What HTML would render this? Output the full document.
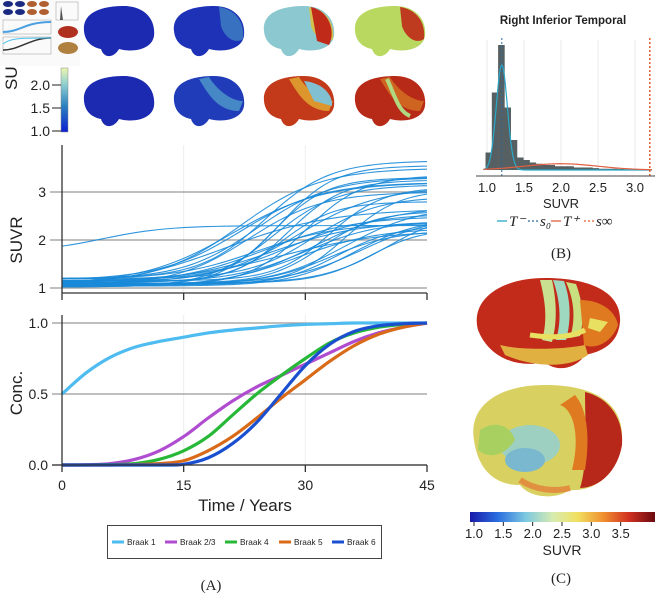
<!DOCTYPE html>
<html><head><meta charset="utf-8"><style>
body{margin:0;background:#fff;}
svg{display:block;font-family:"Liberation Sans",sans-serif;}
.serif{font-family:"Liberation Serif",serif;}
</style></head><body>
<svg id="fig" width="659" height="595" viewBox="0 0 659 595" xmlns="http://www.w3.org/2000/svg">
<defs>
<linearGradient id="cbA" x1="0" y1="1" x2="0" y2="0"><stop offset="0" stop-color="#0a1fd0"/><stop offset="0.4" stop-color="#2a7fc0"/><stop offset="0.75" stop-color="#8fd0d0"/><stop offset="1" stop-color="#eef5b0"/></linearGradient>
<linearGradient id="cbC" x1="0" y1="0" x2="1" y2="0"><stop offset="0" stop-color="#1a1aa8"/><stop offset="0.15" stop-color="#2a6ee0"/><stop offset="0.3" stop-color="#7cc8e0"/><stop offset="0.45" stop-color="#d8ecb0"/><stop offset="0.58" stop-color="#f0e060"/><stop offset="0.72" stop-color="#f09030"/><stop offset="0.86" stop-color="#d03020"/><stop offset="1" stop-color="#6a0a10"/></linearGradient>
</defs>

<!-- colorbar A label (partially hidden behind thumbnail) -->
<text x="0" y="0" font-size="17" fill="#222" transform="translate(17,90) rotate(-90)">SUVR</text>

<!-- thumbnail -->
<g>
<rect x="0" y="0" width="80" height="66" fill="#fafafa"/>
<g fill="#1a2a80"><ellipse cx="8" cy="4" rx="5" ry="3"/><ellipse cx="20" cy="4" rx="5" ry="3"/><ellipse cx="8" cy="12" rx="5" ry="3"/><ellipse cx="20" cy="12" rx="5" ry="3"/></g>
<g fill="#b06030"><ellipse cx="32" cy="4" rx="5" ry="3"/><ellipse cx="44" cy="4" rx="5" ry="3"/><ellipse cx="32" cy="12" rx="5" ry="3"/><ellipse cx="44" cy="12" rx="5" ry="3"/></g>
<rect x="3" y="20" width="48" height="14" fill="none" stroke="#999" stroke-width="0.5"/>
<path d="M3,32 C20,32 25,22 51,22" stroke="#4aa0e0" stroke-width="2" fill="none"/>
<rect x="3" y="37" width="48" height="17" fill="none" stroke="#999" stroke-width="0.5"/>
<path d="M3,50 C20,50 30,38 51,38" stroke="#333" stroke-width="1.5" fill="none"/>
<path d="M3,44 C10,38 20,38 51,38" stroke="#4ac0f0" stroke-width="1" fill="none"/>
<rect x="56" y="2" width="22" height="18" fill="none" stroke="#999" stroke-width="0.5"/>
<path d="M60,20 L61,6 L63,20" fill="#555"/>
<ellipse cx="68" cy="32" rx="10" ry="6" fill="#b03020"/>
<ellipse cx="68" cy="48" rx="10" ry="6" fill="#b08040"/>
</g>

<!-- brains panel A -->
<g id="brainsA"></g>

<!-- colorbar A -->
<g>
<rect x="61" y="68" width="7" height="64" fill="url(#cbA)" stroke="#888" stroke-width="0.5"/>
<g font-size="14" fill="#222" text-anchor="end">
<text x="50" y="90">2.0</text><text x="50" y="113">1.5</text><text x="50" y="136">1.0</text>
</g>
<g stroke="#222" stroke-width="1"><line x1="52" y1="85" x2="61" y2="85"/><line x1="52" y1="108" x2="61" y2="108"/><line x1="52" y1="131" x2="61" y2="131"/></g>
</g>

<!-- SUVR chart -->
<g id="suvr"></g>
<!-- Conc chart -->
<g id="conc"></g>

<!-- legend A -->
<g>
<rect x="107.5" y="525.5" width="274" height="33" fill="#fff" stroke="#444" stroke-width="1"/>
<g id="legA"></g>
</g>
<text x="211" y="590" font-size="15" class="serif" text-anchor="middle" fill="#222">(A)</text>

<!-- Histogram B -->
<g id="hist"></g>
<text x="561" y="258" font-size="15" class="serif" text-anchor="middle" fill="#222">(B)</text>

<!-- Brains C -->
<g>
<g>
<path d="M478,330 C470,300 500,278 545,278 C590,278 622,292 620,322 C618,345 600,352 585,355 C575,370 555,372 545,362 C520,368 490,360 478,330 Z" fill="#c22a1a"/>
<path d="M540,280 C545,300 548,320 542,340 L552,342 C558,320 556,298 552,280 Z" fill="#c8e090"/>
<path d="M553,280 C560,300 562,320 556,340 L566,340 C572,318 570,298 564,281 Z" fill="#9fd8c0"/>
<path d="M566,282 C574,300 576,318 570,338 L580,336 C585,318 582,300 576,284 Z" fill="#c8e080"/>
<path d="M580,300 C600,300 615,310 618,325 C612,342 596,350 584,345 Z" fill="#e07a20"/>
<path d="M500,345 C520,350 560,350 585,345 L588,355 C570,368 535,368 505,355 Z" fill="#e0b040"/>
<path d="M530,335 C550,338 570,338 585,330" stroke="#e8e060" stroke-width="5" fill="none"/>
<path d="M590,318 L608,322 L600,332 L588,328Z" fill="#e8e060"/>
</g>
<g>
<path d="M474,440 C468,405 500,385 545,385 C590,385 624,400 622,440 C620,470 598,492 570,490 C555,500 530,498 520,485 C495,485 478,470 474,440 Z" fill="#d8d060"/>
<path d="M585,392 C610,398 624,420 622,445 C618,470 600,488 580,488 C588,465 585,420 585,392 Z" fill="#b8281a"/>
<path d="M560,405 C575,410 580,440 572,470 L585,470 C590,440 588,410 575,395 Z" fill="#e07a20"/>
<ellipse cx="530" cy="445" rx="30" ry="20" fill="#9dd0c0"/>
<ellipse cx="525" cy="460" rx="20" ry="12" fill="#7ab8d0"/>
<path d="M480,430 C495,420 510,425 515,440 C505,455 490,460 478,450 Z" fill="#a8d060"/>
<path d="M520,480 C535,490 555,492 570,488" stroke="#e09040" stroke-width="6" fill="none"/>
</g>
<rect x="470" y="512" width="185" height="10" fill="url(#cbC)"/>
<g font-size="13" fill="#222" text-anchor="middle" id="cbCt"></g>
<text x="562" y="555" font-size="14" fill="#222" text-anchor="middle">SUVR</text>
</g>
<text x="561" y="583" font-size="15" class="serif" text-anchor="middle" fill="#222">(C)</text>
</svg>
<script>
// ---- data ----
const suvrLow  = [1.75,1.2,1.15,1.1,1.05,1.18,1.12,1.08,1.02,1.15,1.1,1.05,1.2,1.12,1.06,1.0,1.1,1.15,1.08,1.04,1.12,1.18,1.06,1.1,1.02,1.14,1.08,1.05,1.16,1.1,1.03,1.09,1.12,1.07];
const suvrHigh = [2.3,3.65,3.55,3.5,3.35,3.3,3.25,3.2,3.15,3.1,3.1,3.0,2.9,2.8,2.7,2.65,2.6,2.55,2.5,2.45,2.4,2.35,2.3,2.25,2.25,2.2,2.2,3.3,3.2,2.6,2.7,2.5,2.4,3.05];
const suvrMid  = [5,25,27,22,30,24,28,21,26,33,29,23,31,27,35,20,32,28,25,36,30,24,34,38,29,27,33,26,22,40,31,37,26,35];
const suvrRate = [0.25,0.25,0.3,0.2,0.28,0.22,0.3,0.18,0.25,0.3,0.2,0.22,0.25,0.3,0.22,0.15,0.3,0.2,0.18,0.25,0.22,0.2,0.28,0.3,0.2,0.16,0.25,0.3,0.2,0.25,0.2,0.22,0.18,0.3];
const years = [0,3,6,9,12,15,18,21,24,27,30,33,36,39,42,45];
const braakNames = ["Braak 1","Braak 2/3","Braak 4","Braak 5","Braak 6"];
const braak1  = [0.5,0.65,0.76,0.83,0.87,0.9,0.93,0.95,0.965,0.98,0.99,0.995,1,1,1,1];
const braak23 = [0,0.002,0.01,0.04,0.1,0.2,0.33,0.45,0.55,0.63,0.71,0.79,0.87,0.93,0.97,1];
const braak4  = [0,0,0.003,0.01,0.04,0.1,0.2,0.35,0.5,0.63,0.75,0.86,0.93,0.97,0.99,1];
const braak5  = [0,0,0,0.003,0.01,0.03,0.1,0.2,0.33,0.47,0.6,0.73,0.84,0.92,0.97,1];
const braak6  = [0,0,0,0,0,0.005,0.05,0.15,0.3,0.5,0.7,0.85,0.94,0.98,0.995,1];
const braakColors = ["#4ebcf0","#b04cd0","#28b838","#d86a18","#1a50d0"];
const yearTicks = [0,15,30,45];
const suvrTicks = [1,2,3];
const concTicks = [0.0,0.5,1.0];
const binStart = 0.98, binWidth = 0.085;
const histCounts = [14,62,100,50,24,10,8,6,5,4,4,3,3,3,2,2,2,1.5,1,1,1,0.8,0.6,0.5,0.4,0.3];
const histTicks = [1.0,1.5,2.0,2.5,3.0];
const s0 = 1.2, sInf = 3.2;
const tMinusMean = 1.2, tMinusSd = 0.075, tMinusPeak = 84;
const tPlusMean = 2.0, tPlusSd = 0.5, tPlusPeak = 5;
const cbCTicks = [1.0,1.5,2.0,2.5,3.0,3.5];

const NS="http://www.w3.org/2000/svg";
function mk(p,tag,attrs){const e=document.createElementNS(NS,tag);for(const k in attrs)e.setAttribute(k,attrs[k]);p.appendChild(e);return e;}
function smooth(pts){let d=`M${pts[0][0]},${pts[0][1]}`;for(let i=0;i<pts.length-1;i++){const p0=pts[i-1]||pts[i],p1=pts[i],p2=pts[i+1],p3=pts[i+2]||p2;
d+=` C${p1[0]+(p2[0]-p0[0])/6},${p1[1]+(p2[1]-p0[1])/6} ${p2[0]-(p3[0]-p1[0])/6},${p2[1]-(p3[1]-p1[1])/6} ${p2[0]},${p2[1]}`;}return d;}

const xT = t=>62+t*(427-62)/45;
const yS = v=>288-(v-1)*48;
const yC = v=>465-v*142;

// SUVR chart
const gS=document.getElementById('suvr');
[15,30].forEach(t=>{const l=mk(gS,'line',{x1:xT(t),x2:xT(t),y1:145,y2:293,stroke:'#eee','stroke-width':1});
});
suvrTicks.forEach(v=>{const l=mk(gS,'line',{x1:50,x2:427,y1:yS(v),y2:yS(v),stroke:'#999','stroke-width':1.2});

const t=mk(gS,'text',{x:46,y:yS(v)+5,'font-size':14,'text-anchor':'end',fill:'#222'});t.textContent=v;
});
suvrLow.forEach((lo,i)=>{const pts=[];for(let t=0;t<=45;t+=1){pts.push([xT(t),yS(lo+(suvrHigh[i]-lo)/(1+Math.exp(-suvrRate[i]*(t-suvrMid[i]))))]);}
const p=mk(gS,'path',{d:smooth(pts),fill:'none',stroke:'#1a8ad8','stroke-width':1.1,opacity:0.9});
});
mk(gS,'line',{x1:62,x2:62,y1:145,y2:293,stroke:'#333','stroke-width':1.3});
mk(gS,'line',{x1:62,x2:427,y1:293,y2:293,stroke:'#333','stroke-width':1.3});
yearTicks.forEach(t=>mk(gS,'line',{x1:xT(t),x2:xT(t),y1:293,y2:300,stroke:'#333','stroke-width':1.3}));
const sl=mk(gS,'text',{x:0,y:0,'font-size':17,fill:'#222',transform:'translate(22,240) rotate(-90)','text-anchor':'middle'});sl.textContent='SUVR';


// Conc chart
const gC=document.getElementById('conc');
[15,30].forEach(t=>mk(gC,'line',{x1:xT(t),x2:xT(t),y1:315,y2:465,stroke:'#eee','stroke-width':1}));
concTicks.forEach(v=>{const l=mk(gC,'line',{x1:52,x2:427,y1:yC(v),y2:yC(v),stroke:'#999','stroke-width':1.2});

const t=mk(gC,'text',{x:48,y:yC(v)+5,'font-size':14,'text-anchor':'end',fill:'#222'});t.textContent=v.toFixed(1);
});
[braak1,braak23,braak4,braak5,braak6].forEach((s,i)=>{const p=mk(gC,'path',{d:smooth(s.map((v,j)=>[xT(years[j]),yC(v)])),fill:'none',stroke:braakColors[i],'stroke-width':3.2});
});
mk(gC,'line',{x1:62,x2:62,y1:315,y2:465,stroke:'#333','stroke-width':1.3});
mk(gC,'line',{x1:52,x2:427,y1:465,y2:465,stroke:'#333','stroke-width':1.3});
yearTicks.forEach(t=>{mk(gC,'line',{x1:xT(t),x2:xT(t),y1:465,y2:472,stroke:'#333','stroke-width':1.3});
const l=mk(gC,'text',{x:xT(t),y:490,'font-size':14,'text-anchor':'middle',fill:'#222'});l.textContent=t;
});
const xl=mk(gC,'text',{x:245,y:511,'font-size':17,'text-anchor':'middle',fill:'#222'});xl.textContent='Time / Years';

const cl=mk(gC,'text',{x:0,y:0,'font-size':17,fill:'#222',transform:'translate(22,393) rotate(-90)','text-anchor':'middle'});cl.textContent='Conc.';


// legend A
const gL=document.getElementById('legA');
const legX=[112,165,225,279,332];
braakNames.forEach((n,i)=>{const g=mk(gL,'g',{});

mk(g,'line',{x1:legX[i],x2:legX[i]+12,y1:542,y2:542,stroke:braakColors[i],'stroke-width':3});
const t=mk(g,'text',{x:legX[i]+15,y:545,'font-size':8.3,fill:'#222'});t.textContent=n;});

// Histogram B
const gH=document.getElementById('hist');
const xH=v=>487+(v-1)*74, y0=170, hS=125/100;
const ht=mk(gH,'text',{x:563,y:24,'font-size':11.5,'font-weight':'bold','text-anchor':'middle',fill:'#222'});ht.textContent='Right Inferior Temporal';

histTicks.forEach(v=>mk(gH,'line',{x1:xH(v),x2:xH(v),y1:40,y2:170,stroke:'#e8e8e8','stroke-width':1}));
histCounts.forEach((c,i)=>{const x=xH(binStart+i*binWidth);const r=mk(gH,'rect',{x:x,y:y0-c*hS,width:binWidth*74+0.3,height:c*hS,fill:'#566062'});
});
function gaussPath(m,s,pk){const pts=[];for(let v=0.95;v<=3.25;v+=0.02)pts.push([xH(v),y0-pk*Math.exp(-0.5*((v-m)/s)**2)]);return smooth(pts);}
const tm=mk(gH,'path',{d:gaussPath(tMinusMean,tMinusSd,tMinusPeak*hS),fill:'none',stroke:'#2aa8c8','stroke-width':1.2});

const tp=mk(gH,'path',{d:gaussPath(tPlusMean,tPlusSd,tPlusPeak*hS),fill:'none',stroke:'#e06040','stroke-width':1.2});

const l0=mk(gH,'line',{x1:xH(s0),x2:xH(s0),y1:38,y2:176,stroke:'#2a6aa0','stroke-width':1,'stroke-dasharray':'2,2'});

const li=mk(gH,'line',{x1:xH(sInf),x2:xH(sInf),y1:38,y2:176,stroke:'#e06030','stroke-width':1.5,'stroke-dasharray':'2,2'});

mk(gH,'line',{x1:476,x2:655,y1:176,y2:176,stroke:'#444','stroke-width':1});
histTicks.forEach(v=>{const t=mk(gH,'text',{x:xH(v),y:192,'font-size':13,'text-anchor':'middle',fill:'#222'});t.textContent=v.toFixed(1);
});
const hx=mk(gH,'text',{x:561,y:208,'font-size':13,'text-anchor':'middle',fill:'#222'});hx.textContent='SUVR';

const legB=[["#2aa8c8","","T⁻",497],["#2a6aa0","2,2","s₀",528],["#e06040","","T⁺",551],["#e06030","2,2","s∞",584]];
legB.forEach(([c,da,lab,x])=>{const g=mk(gH,'g',{});
mk(g,'line',{x1:x,x2:x+10,y1:221,y2:221,stroke:c,'stroke-width':1.3,'stroke-dasharray':da});
const t=mk(g,'text',{x:x+12,y:226,'font-size':15,'font-style':'italic',fill:'#222','font-family':'Liberation Serif,serif'});t.textContent=lab;});

// colorbar C ticks
const gT=document.getElementById('cbCt');
cbCTicks.forEach(v=>{const x=474+(v-1)*(650-474)/3;mk(gT,'line',{x1:x,x2:x,y1:522,y2:526,stroke:'#222'});
const t=mk(gT,'text',{x:x,y:538});t.textContent=v.toFixed(1);});

// brains A
const gB=document.getElementById('brainsA');
const cols=[119,209,299,390];
const brainFill=[["#1b2ab0","#1e32b8","#8cc8d0","#b8d860"],["#1b2ab0","#203cb8","#c23a1a","#b82a18"]];
const accents=[[null,"#3a78c0","#d8c040","#c02a18"],[null,"#4a90c8","#e0a030","#d06a20"]];
[0,1].forEach(r=>cols.forEach((cx,c)=>{const cy=r?101:31;const g=mk(gB,'g',{});

mk(g,'path',{d:`M${cx-35},${cy} C${cx-37},${cy-22} ${cx-10},${cy-25} ${cx+5},${cy-25} C${cx+25},${cy-25} ${cx+37},${cy-12} ${cx+35},${cy+5} C${cx+33},${cy+18} ${cx+15},${cy+22} ${cx},${cy+18} C${cx-5},${cy+27} ${cx-15},${cy+28} ${cx-18},${cy+18} C${cx-28},${cy+16} ${cx-34},${cy+10} ${cx-35},${cy} Z`,fill:brainFill[r][c]});
if(accents[r][c]){mk(g,'path',{d:r?`M${cx-10},${cy-22} C${cx},${cy-5} ${cx+10},${cy+10} ${cx+30},${cy+10} L${cx+34},${cy} C${cx+20},${cy} ${cx+5},${cy-15} ${cx},${cy-24}Z`:`M${cx+10},${cy-24} C${cx+25},${cy-22} ${cx+36},${cy-10} ${cx+34},${cy+8} C${cx+25},${cy+14} ${cx+15},${cy+5} ${cx+12},${cy-5}Z`,fill:accents[r][c],opacity:0.9});}
if(c===2&&r===0){mk(g,'path',{d:`M${cx+12},${cy-24} C${cx+30},${cy-20} ${cx+37},${cy} ${cx+30},${cy+14} L${cx+18},${cy+10}Z`,fill:"#c02a18"});}
if(c===3&&r===1){mk(g,'path',{d:`M${cx-3},${cy-22} C${cx+5},${cy-5} ${cx+8},${cy+10} ${cx+20},${cy+15}`,stroke:"#b0d880",'stroke-width':4,fill:'none'});}
if(c===2&&r===1){mk(g,'path',{d:`M${cx+5},${cy-20} C${cx+25},${cy-18} ${cx+34},${cy-5} ${cx+33},${cy+5} L${cx+15},${cy}Z`,fill:"#80c0d0"});}
}));
</script>
</body></html>
